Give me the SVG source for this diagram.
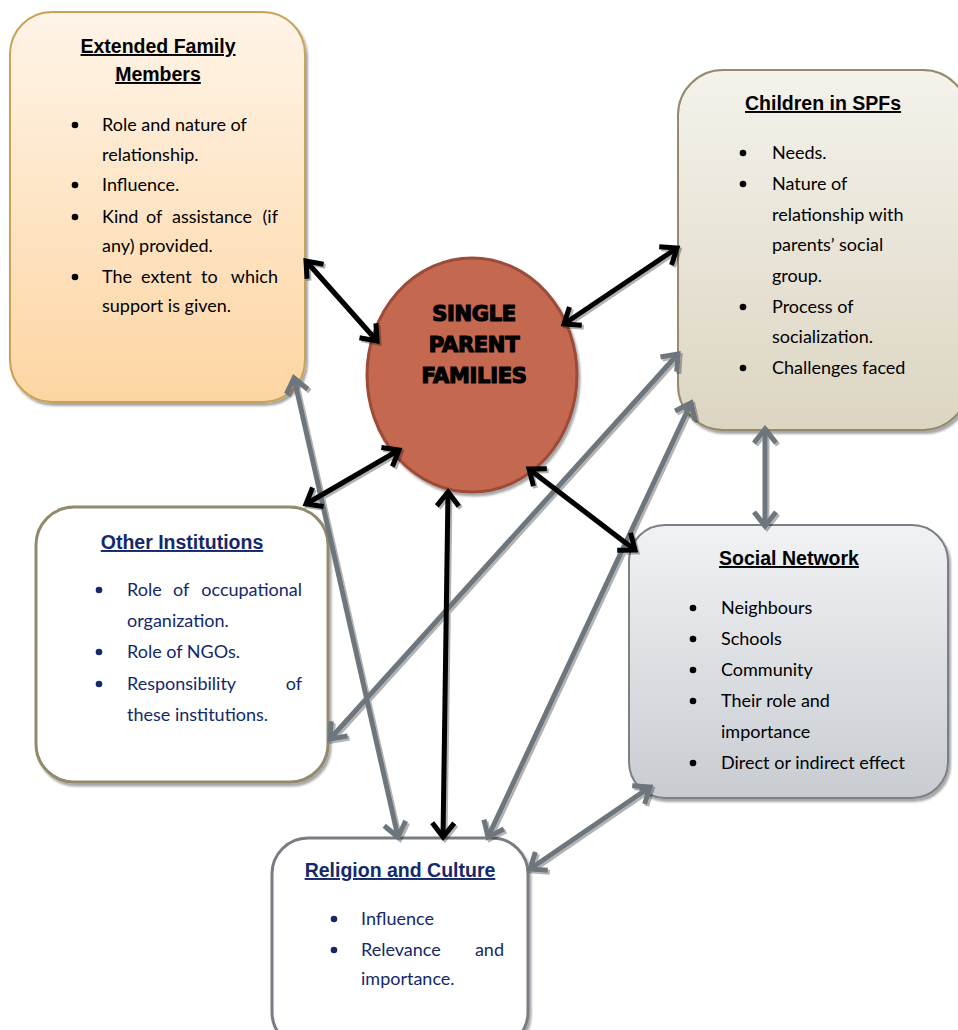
<svg xmlns="http://www.w3.org/2000/svg" width="958" height="1030" viewBox="0 0 958 1030">
<defs>
<linearGradient id="gExt" x1="0" y1="0" x2="0" y2="1"><stop offset="0" stop-color="#fff4e8"/><stop offset="1" stop-color="#fdd5a2"/></linearGradient>
<linearGradient id="gChild" x1="0" y1="0" x2="0" y2="1"><stop offset="0" stop-color="#f4f2eb"/><stop offset="1" stop-color="#dcd5c2"/></linearGradient>
<linearGradient id="gSoc" x1="0" y1="0" x2="0" y2="1"><stop offset="0" stop-color="#f1f2f4"/><stop offset="1" stop-color="#c8ccd1"/></linearGradient>
<filter id="sh" x="-10%" y="-10%" width="130%" height="130%"><feDropShadow dx="2" dy="3" stdDeviation="1" flood-color="#000" flood-opacity="0.35"/></filter>
<filter id="lsh" x="-10%" y="-10%" width="130%" height="130%"><feDropShadow dx="2" dy="2" stdDeviation="0.6" flood-color="#000" flood-opacity="0.3"/></filter>
<marker id="hb" markerUnits="userSpaceOnUse" viewBox="-20 -15 24 30" refX="0" refY="0" markerWidth="24" markerHeight="30" orient="auto-start-reverse"><path d="M-14,-11 L0,0 L-14,11" fill="none" stroke="#000" stroke-width="5" stroke-linejoin="miter"/></marker>
<marker id="hg" markerUnits="userSpaceOnUse" viewBox="-20 -15 24 30" refX="0" refY="0" markerWidth="24" markerHeight="30" orient="auto-start-reverse"><path d="M-14,-11 L0,0 L-14,11" fill="none" stroke="#6e767d" stroke-width="5" stroke-linejoin="miter"/></marker>
</defs>
<style>
.title{font-family:"Liberation Sans",Arial,sans-serif;font-weight:bold;font-size:19.5px;text-decoration:underline;text-anchor:middle}
.body{font-family:Lato,"Open Sans",sans-serif;font-size:18px}
.blk{fill:#000}
.nav{fill:#14286a}
.end{text-anchor:end}
.bk{stroke:#000;stroke-width:5;fill:none;marker-start:url(#hb);marker-end:url(#hb)}
.gr{stroke:#6e767d;stroke-width:5;fill:none;marker-start:url(#hg);marker-end:url(#hg)}
</style>
<rect width="958" height="1030" fill="#fff"/>
<g id="extended-family">
<rect x="10" y="12" width="295" height="390" rx="42" fill="url(#gExt)" stroke="#c9a254" stroke-width="2" filter="url(#sh)"/>
<text class="title blk" x="158" y="53">Extended Family</text>
<text class="title blk" x="158" y="81">Members</text>
<g class="body blk">
<circle cx="75" cy="125" r="3.3"/><text x="102" y="131">Role and nature of</text>
<text x="102" y="161">relationship.</text>
<circle cx="75" cy="185" r="3.3"/><text x="102" y="191">Influence.</text>
<circle cx="75" cy="217" r="3.3"/><text x="102" y="223">Kind</text><text x="146" y="223">of</text><text x="172" y="223">assistance</text><text class="end" x="278" y="223">(if</text>
<text x="102" y="252">any) provided.</text>
<circle cx="75" cy="277" r="3.3"/><text x="102" y="283">The</text><text x="141" y="283">extent</text><text x="201" y="283">to</text><text class="end" x="278" y="283">which</text>
<text x="102" y="312">support is given.</text>
</g>
</g>
<g id="children">
<rect x="678" y="70" width="290" height="360" rx="45" fill="url(#gChild)" stroke="#948b6c" stroke-width="2" filter="url(#sh)"/>
<text class="title blk" x="823" y="110">Children in SPFs</text>
<g class="body blk">
<circle cx="743" cy="153" r="3.3"/><text x="772" y="159">Needs.</text>
<circle cx="743" cy="184" r="3.3"/><text x="772" y="190">Nature of</text>
<text x="772" y="221">relationship with</text>
<text x="772" y="251">parents’ social</text>
<text x="772" y="282">group.</text>
<circle cx="743" cy="307" r="3.3"/><text x="772" y="313">Process of</text>
<text x="772" y="343">socialization.</text>
<circle cx="743" cy="368" r="3.3"/><text x="772" y="374">Challenges faced</text>
</g>
</g>
<g id="other-institutions">
<rect x="36" y="507" width="292" height="275" rx="38" fill="#fff" stroke="#928a6c" stroke-width="3" filter="url(#sh)"/>
<text class="title nav" x="182" y="549">Other Institutions</text>
<g class="body nav">
<circle cx="99" cy="590" r="3.3"/><text x="127" y="596">Role</text><text x="173" y="596">of</text><text class="end" x="302" y="596">occupational</text>
<text x="127" y="627">organization.</text>
<circle cx="99" cy="652" r="3.3"/><text x="127" y="658">Role of NGOs.</text>
<circle cx="99" cy="684" r="3.3"/><text x="127" y="690">Responsibility</text><text class="end" x="302" y="690">of</text>
<text x="127" y="721">these institutions.</text>
</g>
</g>
<g id="social-network">
<rect x="629" y="525" width="319" height="273" rx="36" fill="url(#gSoc)" stroke="#7b8086" stroke-width="2" filter="url(#sh)"/>
<text class="title blk" x="789" y="565">Social Network</text>
<g class="body blk">
<circle cx="693" cy="608" r="3.3"/><text x="721" y="614">Neighbours</text>
<circle cx="693" cy="639" r="3.3"/><text x="721" y="645">Schools</text>
<circle cx="693" cy="670" r="3.3"/><text x="721" y="676">Community</text>
<circle cx="693" cy="701" r="3.3"/><text x="721" y="707">Their role and</text>
<text x="721" y="738">importance</text>
<circle cx="693" cy="763" r="3.3"/><text x="721" y="769">Direct or indirect effect</text>
</g>
</g>
<g id="religion-culture">
<rect x="272" y="838" width="256" height="210" rx="36" fill="#fff" stroke="#787d83" stroke-width="3" filter="url(#sh)"/>
<text class="title nav" x="400" y="877">Religion and Culture</text>
<g class="body nav">
<circle cx="334" cy="919" r="3.3"/><text x="361" y="925">Influence</text>
<circle cx="334" cy="950" r="3.3"/><text x="361" y="956">Relevance</text><text class="end" x="504" y="956">and</text>
<text x="361" y="985">importance.</text>
</g>
</g>
<g id="single-parent-families">
<ellipse cx="472" cy="375" rx="105" ry="117" fill="#c4684f" stroke="#9b4b39" stroke-width="3" filter="url(#sh)"/>
<g font-family="'DejaVu Sans',sans-serif" font-weight="bold" font-size="21" text-anchor="middle" fill="#000" stroke="#000" stroke-width="1.2" letter-spacing="-0.3">
<text x="474" y="321">SINGLE</text>
<text x="474" y="352">PARENT</text>
<text x="474" y="383">FAMILIES</text>
</g>
</g>
<g id="connectors" filter="url(#lsh)">
<line class="gr" x1="294" y1="378" x2="398" y2="837"/>
<line class="gr" x1="678" y1="354" x2="330" y2="739"/>
<line class="gr" x1="691" y1="403" x2="488" y2="837"/>
<line class="gr" x1="765" y1="429" x2="765" y2="526"/>
<line class="gr" x1="650" y1="787" x2="530" y2="869"/>
<line class="bk" x1="306" y1="261" x2="377" y2="341"/>
<line class="bk" x1="677" y1="248" x2="564" y2="324"/>
<line class="bk" x1="306" y1="504" x2="399" y2="450"/>
<line class="bk" x1="448" y1="492" x2="443" y2="837"/>
<line class="bk" x1="529" y1="469" x2="635" y2="550"/>
</g>
</svg>
